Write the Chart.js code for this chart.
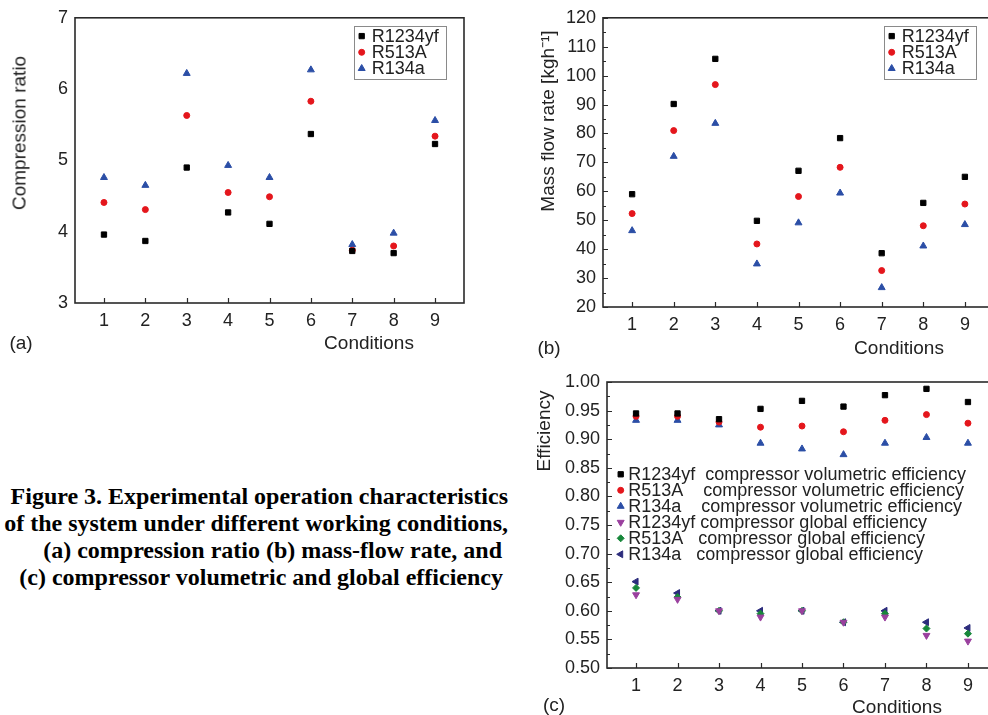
<!DOCTYPE html>
<html>
<head>
<meta charset="utf-8">
<script src="https://cdn.jsdelivr.net/npm/chart.js@4.4.1/dist/chart.umd.min.js"></script>
<style>
  html, body { margin: 0; padding: 0; background: #fff; }
  body { width: 988px; height: 715px; position: relative; overflow: hidden;
         font-family: "Liberation Sans", Arial, sans-serif; color: #222; }
  canvas { position: absolute; }
  .t { position: absolute; font-size: 19px; line-height: 1; white-space: nowrap; transform: translate(-50%, -50%); }
  .rot { transform: translate(-50%, -50%) rotate(-90deg); }
  .cap { position: absolute; left: 0; width: 508px; text-align: right; white-space: nowrap;
         font: bold 24px "Liberation Serif", "Times New Roman", serif; line-height: 27px; color: #000; }
</style>
</head>
<body>
<canvas id="chartA" width="490" height="360" style="left:0;top:0"></canvas>
<canvas id="chartB" width="520" height="360" style="left:490px;top:0"></canvas>
<canvas id="chartC" width="480" height="355" style="left:530px;top:360px"></canvas>

<div class="t rot" style="left:19px;top:133px">Compression ratio</div>
<div class="t" style="left:369px;top:342px">Conditions</div>
<div class="t" style="left:21px;top:342px">(a)</div>

<div class="t rot" style="left:547px;top:121px">Mass flow rate [kgh⁻¹]</div>
<div class="t" style="left:899px;top:347px">Conditions</div>
<div class="t" style="left:549px;top:347px">(b)</div>

<div class="t rot" style="left:543px;top:431px">Efficiency</div>
<div class="t" style="left:897px;top:706px">Conditions</div>
<div class="t" style="left:554px;top:704px">(c)</div>

<div class="cap" style="top:483px">Figure 3. Experimental operation characteristics</div>
<div class="cap" style="top:510px">of the system under different working conditions,</div>
<div class="cap" style="top:537px;width:502px">(a) compression ratio (b) mass-flow rate, and</div>
<div class="cap" style="top:564px;width:503px">(c) compressor volumetric and global efficiency</div>

<script>
const conditions = [1, 2, 3, 4, 5, 6, 7, 8, 9];

const ratioTicks = [3, 4, 5, 6, 7];
const ratioR1234yf = [3.96, 3.87, 4.90, 4.27, 4.11, 5.37, 3.73, 3.70, 5.23];
const ratioR513A = [4.41, 4.31, 5.63, 4.55, 4.49, 5.83, 3.74, 3.80, 5.34];
const ratioR134a = [4.76, 4.65, 6.22, 4.93, 4.76, 6.27, 3.82, 3.98, 5.56];

const flowTicks = [20, 30, 40, 50, 60, 70, 80, 90, 100, 110, 120];
const flowR1234yf = [59.0, 90.2, 105.8, 49.8, 67.1, 78.4, 38.6, 56.0, 65.0];
const flowR513A = [52.3, 81.0, 96.9, 41.8, 58.2, 68.3, 32.6, 48.1, 55.6];
const flowR134a = [46.4, 72.1, 83.5, 34.9, 49.1, 59.4, 26.7, 41.1, 48.5];

const effTicks = [0.50, 0.55, 0.60, 0.65, 0.70, 0.75, 0.80, 0.85, 0.90, 0.95, 1.00];
const volR1234yf = [0.945, 0.945, 0.935, 0.953, 0.967, 0.957, 0.977, 0.988, 0.965];
const volR513A = [0.940, 0.940, 0.930, 0.921, 0.923, 0.913, 0.933, 0.943, 0.928];
const volR134a = [0.933, 0.933, 0.925, 0.893, 0.883, 0.873, 0.893, 0.903, 0.893];
const globR1234yf = [0.628, 0.620, 0.600, 0.589, 0.600, 0.580, 0.589, 0.557, 0.547];
const globR513A = [0.640, 0.624, 0.600, 0.595, 0.600, 0.580, 0.595, 0.569, 0.560];
const globR134a = [0.651, 0.631, 0.600, 0.600, 0.600, 0.580, 0.600, 0.580, 0.570];

Chart.defaults.font.family = '"Liberation Sans", Arial, sans-serif';
Chart.defaults.font.size = 18;
Chart.defaults.color = "#222";

function series(label, values, color, style, radius, rotation) {
  return {
    label,
    data: conditions.map((c, i) => ({ x: c, y: values[i] })),
    backgroundColor: color,
    borderColor: color,
    pointStyle: style,
    pointRadius: radius,
    pointHoverRadius: radius,
    pointBorderWidth: 1,
    pointRotation: rotation || 0,
    showLine: false
  };
}

// box + inward tick marks, like the Origin plots
const framePlugin = {
  id: "frame",
  beforeDatasetsDraw(chart, args, opts) {
    const { ctx, chartArea: a, scales } = chart;
    ctx.save();
    ctx.strokeStyle = "#2a2a2a";
    ctx.lineWidth = 1.6;
    ctx.strokeRect(a.left, a.top, a.right - a.left, a.bottom - a.top);
    ctx.lineWidth = 1.2;
    ctx.beginPath();
    scales.x.ticks.forEach(t => {
      const px = Math.round(scales.x.getPixelForValue(t.value)) + 0.5;
      ctx.moveTo(px, a.bottom);
      ctx.lineTo(px, a.bottom - 5);
    });
    if (opts.yTicks) {
      const tk = scales.y.ticks;
      tk.forEach((t, i) => {
        const py = Math.round(scales.y.getPixelForValue(t.value)) + 0.5;
        ctx.moveTo(a.left, py);
        ctx.lineTo(a.left + 5, py);
        if (i < tk.length - 1) {
          const pm = Math.round(scales.y.getPixelForValue((t.value + tk[i + 1].value) / 2)) + 0.5;
          ctx.moveTo(a.left, pm);
          ctx.lineTo(a.left + 3, pm);
        }
      });
    }
    ctx.stroke();
    ctx.restore();
  }
};

const legendPlugin = {
  id: "boxLegend",
  afterDatasetsDraw(chart, args, o) {
    if (!o || !o.rowH) return;
    const { ctx, chartArea: a } = chart;
    const left = o.right != null ? a.right - o.right - o.width : a.left + o.left;
    const top = a.top + o.top;
    ctx.save();
    if (o.border) {
      ctx.strokeStyle = "#8a8a8a";
      ctx.lineWidth = 1;
      ctx.strokeRect(Math.round(left) + 0.5, Math.round(top) + 0.5, o.width, o.height);
    }
    ctx.font = '18px "Liberation Sans", Arial, sans-serif';
    ctx.textBaseline = "middle";
    chart.data.datasets.forEach((ds, i) => {
      const y = top + o.row0 + i * o.rowH;
      ctx.fillStyle = ds.backgroundColor;
      ctx.strokeStyle = ds.borderColor;
      ctx.lineWidth = 1;
      Chart.helpers.drawPoint(ctx, {
        pointStyle: ds.pointStyle, rotation: ds.pointRotation,
        radius: ds.pointRadius, borderWidth: 1
      }, left + o.markerDx, y);
      ctx.fillStyle = "#222";
      ctx.fillText(ds.label, left + o.textDx, y + 1);
    });
    ctx.restore();
  }
};

function makeScales(yTicks, yWidth, xHeight, fmt) {
  return {
    x: {
      type: "linear", min: 0.3, max: 9.7,
      grid: { display: false, drawTicks: false }, border: { display: false },
      ticks: { padding: 7 },
      afterBuildTicks: s => { s.ticks = conditions.map(v => ({ value: v })); },
      afterFit: s => { s.height = xHeight; }
    },
    y: {
      type: "linear", min: yTicks[0], max: yTicks[yTicks.length - 1],
      grid: { display: false, drawTicks: false }, border: { display: false },
      ticks: { padding: 7, callback: fmt || (v => String(v)) },
      afterBuildTicks: s => { s.ticks = yTicks.map(v => ({ value: v })); },
      afterFit: s => { s.width = yWidth; }
    }
  };
}

function makeChart(canvasId, datasets, scales, padding, frame, legend) {
  const ctx = document.getElementById(canvasId);
  if (!ctx) throw new Error(`No canvas #${canvasId}`);
  return new Chart(ctx, {
    type: "scatter",
    data: { datasets },
    options: {
      responsive: false,
      animation: false,
      devicePixelRatio: 1,
      events: [],
      layout: { padding },
      scales,
      plugins: {
        legend: { display: false },
        tooltip: { enabled: false },
        frame,
        boxLegend: legend
      }
    },
    plugins: [framePlugin, legendPlugin]
  });
}

const BLACK = "#000000", RED = "#e4161c", BLUE = "#2b4ea6";
const PURPLE = "#9a409e", GREEN = "#17873a", NAVY = "#2c2c7c";

makeChart("chartA", [
  series("R1234yf", ratioR1234yf, BLACK, "rect", 3.75),
  series("R513A", ratioR513A, RED, "circle", 3),
  series("R134a", ratioR134a, BLUE, "triangle", 4)
], makeScales(ratioTicks, 75, 57),
  { left: 0, top: 16, right: 26, bottom: 0 },
  { yTicks: false },
  { right: 18, top: 8, width: 92, height: 53, row0: 10.3, rowH: 16.2, markerDx: 7.7, textDx: 17.7, border: true });

makeChart("chartB", [
  series("R1234yf", flowR1234yf, BLACK, "rect", 3.75),
  series("R513A", flowR513A, RED, "circle", 3),
  series("R134a", flowR134a, BLUE, "triangle", 4)
], makeScales(flowTicks, 113, 53),
  { left: 0, top: 16.5, right: 16, bottom: 0 },
  { yTicks: true },
  { right: 18, top: 8, width: 92, height: 53, row0: 10.3, rowH: 16.2, markerDx: 7.7, textDx: 17.7, border: true });

makeChart("chartC", [
  series("R1234yf  compressor volumetric efficiency", volR1234yf, BLACK, "rect", 3.75),
  series("R513A    compressor volumetric efficiency", volR513A, RED, "circle", 3),
  series("R134a    compressor volumetric efficiency", volR134a, BLUE, "triangle", 4),
  series("R1234yf compressor global efficiency", globR1234yf, PURPLE, "triangle", 4, 180),
  series("R513A   compressor global efficiency", globR513A, GREEN, "rectRot", 3.5),
  series("R134a   compressor global efficiency", globR134a, NAVY, "triangle", 4, -90)
], makeScales(effTicks, 77, 47, v => v.toFixed(2)),
  { left: 0, top: 22, right: 13, bottom: 0 },
  { yTicks: true },
  { left: 0, top: 0, row0: 92.3, rowH: 16, markerDx: 13.7, textDx: 21.3, border: false });
</script>
</body>
</html>
